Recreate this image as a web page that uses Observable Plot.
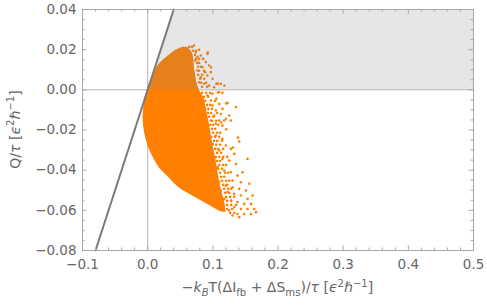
<!DOCTYPE html>
<html>
<head>
<meta charset="utf-8">
<script src="https://cdn.jsdelivr.net/npm/d3@7"></script>
<script src="https://cdn.jsdelivr.net/npm/@observablehq/plot@0.6"></script>
<style>
  html, body { margin: 0; padding: 0; background: #fff; }
</style>
</head>
<body>
<script>
// ---- tick values ----
const xMajor = [-0.1, 0, 0.1, 0.2, 0.3, 0.4, 0.5];
const xMinor = [-0.08, -0.06, -0.04, -0.02, 0.02, 0.04, 0.06, 0.08, 0.12, 0.14, 0.16, 0.18,
                0.22, 0.24, 0.26, 0.28, 0.32, 0.34, 0.36, 0.38, 0.42, 0.44, 0.46, 0.48];
const yMajor = [-0.08, -0.06, -0.04, -0.02, 0, 0.02, 0.04];
const yMinor = [-0.075, -0.07, -0.065, -0.055, -0.05, -0.045, -0.035, -0.03, -0.025,
                -0.015, -0.01, -0.005, 0.005, 0.01, 0.015, 0.025, 0.03, 0.035];

// ---- reference line (y = x) ----
const guideX = [-0.08, 0.04];
const guideY = [-0.08, 0.04];

// ---- shaded region (0 <= y <= min(x, 0.04)) ----
const shadeX = [0, 0.04, 0.5];
const shadeTop = [0, 0.04, 0.04];

// ---- dense core of the scatter: for each y, left and right x ----
const coreY = [0.02117, 0.02042, 0.01942, 0.01793, 0.01594, 0.01345, 0.01046, 0.00747, 0.00398, 0,
               -0.00398, -0.00797, -0.01195, -0.01594, -0.02042, -0.0254, -0.03038, -0.03536, -0.03934,
               -0.04333, -0.04681, -0.0498, -0.05279, -0.05528, -0.05727, -0.05876, -0.06026, -0.061];
const coreLeft = [0.0543, 0.0482, 0.042, 0.0358, 0.0282, 0.0197, 0.0128, 0.0089, 0.0038, -0.0006,
                  -0.0038, -0.0057, -0.0068, -0.0068, -0.0052, -0.0018, 0.0035, 0.0112, 0.0189,
                  0.0312, 0.0412, 0.0523, 0.0685, 0.082, 0.0928, 0.1009, 0.1089, 0.1151];
const coreRight = [0.0605, 0.0635, 0.0666, 0.0689, 0.0705, 0.0712, 0.072, 0.0735, 0.0751, 0.079,
                   0.086, 0.089, 0.0915, 0.094, 0.0965, 0.099, 0.102, 0.105, 0.107,
                   0.109, 0.111, 0.113, 0.1155, 0.1175, 0.119, 0.1195, 0.12, 0.1205];

// ---- speckled band just outside the core ----
const edgeX = [0.0835, 0.0897, 0.0958, 0.0866, 0.0928, 0.0882, 0.1035, 0.0912, 0.0958, 0.0882,
  0.0989, 0.0928, 0.0974, 0.1066, 0.0943, 0.1005, 0.0989, 0.1051, 0.0958, 0.1005,
  0.1082, 0.0989, 0.1035, 0.1005, 0.1066, 0.1112, 0.0974, 0.1035, 0.1097, 0.102,
  0.1066, 0.1143, 0.1051, 0.1112, 0.1035, 0.1082, 0.1158, 0.1066, 0.1128, 0.1097,
  0.1158, 0.122, 0.1066, 0.1112, 0.1097, 0.1158, 0.1205, 0.1082, 0.1143, 0.1112,
  0.1189, 0.1235, 0.1128, 0.1174, 0.1143, 0.1205, 0.1251, 0.1158, 0.122, 0.1174,
  0.1235, 0.1282, 0.1189, 0.1251, 0.1205, 0.1266, 0.1328, 0.122, 0.1282, 0.122,
  0.1282, 0.1358, 0.122, 0.1297, 0.1266, 0.1328,
  0.0635, 0.0682, 0.0697, 0.0743, 0.0728, 0.0743, 0.0789, 0.0758, 0.0774, 0.082,
  0.0789, 0.0866, 0.0774, 0.0835, 0.0805, 0.0866, 0.082, 0.0897, 0.0835, 0.0912];
const edgeY = [-0.0015, -0.0015, -0.0015, -0.0035, -0.0035, -0.0055, -0.0055, -0.0075, -0.0075, -0.0095,
  -0.0095, -0.0115, -0.0115, -0.0115, -0.0134, -0.0134, -0.0154, -0.0154, -0.0174, -0.0174,
  -0.0174, -0.0194, -0.0194, -0.0214, -0.0214, -0.0214, -0.0234, -0.0234, -0.0234, -0.0254,
  -0.0254, -0.0254, -0.0274, -0.0274, -0.0294, -0.0294, -0.0294, -0.0314, -0.0314, -0.0334,
  -0.0334, -0.0334, -0.0354, -0.0354, -0.0374, -0.0374, -0.0374, -0.0393, -0.0393, -0.0413,
  -0.0413, -0.0413, -0.0433, -0.0433, -0.0453, -0.0453, -0.0453, -0.0473, -0.0473, -0.0493,
  -0.0493, -0.0493, -0.0513, -0.0513, -0.0533, -0.0533, -0.0533, -0.0553, -0.0553, -0.0573,
  -0.0573, -0.0573, -0.0593, -0.0593, -0.0613, -0.0613,
  0.0214, 0.0214, 0.0194, 0.0194, 0.0174, 0.0154, 0.0154, 0.0134, 0.0115, 0.0115,
  0.0095, 0.0095, 0.0075, 0.0075, 0.0055, 0.0055, 0.0035, 0.0035, 0.0015, 0.0015];

// ---- sparse points at the outer fringe of the scatter ----
const scatterX = [0.0712, 0.0677, 0.0789, 0.0738, 0.0917, 0.0815, 0.0763, 0.0851, 0.0728, 0.0892,
  0.0789, 0.0943, 0.084, 0.0969, 0.0882, 0.0763, 0.0917, 0.0815, 0.0994, 0.1055,
  0.1123, 0.0943, 0.0866, 0.102, 0.0789, 0.0712, 0.1097, 0.0994, 0.1148, 0.0917,
  0.1055, 0.0969, 0.1225, 0.1097, 0.0994, 0.1354, 0.1148, 0.1046, 0.0932, 0.1123,
  0.1251, 0.102, 0.12, 0.1097, 0.1174, 0.1277, 0.0969, 0.1046, 0.1148, 0.0892,
  0.1077, 0.1205, 0.1128, 0.1385, 0.1308, 0.1205, 0.0923, 0.1,
  0.1405, 0.1277, 0.1328, 0.1148, 0.1046, 0.12, 0.1097, 0.1251, 0.1148, 0.1046,
  0.1354, 0.1532, 0.1455, 0.1378, 0.1277, 0.1174, 0.1071, 0.1302, 0.1431, 0.1558,
  0.1508, 0.1405, 0.1302, 0.12, 0.1097, 0.1609, 0.1532, 0.1431, 0.1328, 0.1225,
  0.1123, 0.1585, 0.1482, 0.1378, 0.1277, 0.1174, 0.1635, 0.1532, 0.1431, 0.1328,
  0.1251, 0.1585, 0.1482, 0.1378, 0.1662, 0.1405, 0.1302,
  0.0923, 0.0974, 0.1178, 0.1077];
const scatterY = [0.0221, 0.0213, 0.0199, 0.0188, 0.0179, 0.0171, 0.0163, 0.0154, 0.0146, 0.0138,
  0.0134, 0.0121, 0.0113, 0.0088, 0.0088, 0.0096, 0.0071, 0.0063, 0.0055, 0.003,
  0.003, 0.0021, 0.003, 0.0013, 0.0038, 0.0055, -0.0011, -0.002, -0.0015, -0.0028,
  -0.0045, -0.0053, -0.0065, -0.007, -0.0078, -0.0086, -0.0095, -0.0103, -0.0095, -0.012,
  -0.0128, -0.0128, -0.0144, -0.0153, -0.0153, -0.0153, -0.0153, -0.0169, -0.0178, -0.0169,
  -0.0013, -0.0068, -0.0163, -0.0238, -0.0287, -0.0196, -0.0221, -0.027,
  -0.0257, -0.0294, -0.0319, -0.0244, -0.0228, -0.0277, -0.0302, -0.0352, -0.0344, -0.0335,
  -0.0369, -0.0344, -0.041, -0.0427, -0.041, -0.0402, -0.0385, -0.0452, -0.046, -0.0468,
  -0.0501, -0.0493, -0.0485, -0.0477, -0.046, -0.0526, -0.0543, -0.0526, -0.0518, -0.0509,
  -0.0501, -0.0568, -0.0568, -0.0559, -0.0551, -0.0543, -0.0593, -0.0593, -0.0593, -0.0584,
  -0.0601, -0.0618, -0.0618, -0.0618, -0.0609, -0.0634, -0.0626,
  0.0186, 0.0111, 0.002, 0.0031];

// ---- tables built from the arrays ----
const core = coreY.map((y, i) => ({y, x1: coreLeft[i], x2: coreRight[i]}));
const points = scatterX.map((x, i) => ({x, y: scatterY[i]}))
  .concat(edgeX.map((x, i) => ({x, y: edgeY[i]})));
const shade = shadeX.map((x, i) => ({x, top: shadeTop[i]}));
const guide = guideX.map((x, i) => ({x, y: guideY[i]}));

const W = 487, H = 307;
const mL = 82, mR = 14, mT = 9, mB = 57;
const innerW = W - mL - mR, innerH = H - mT - mB;
const ORANGE = "#ff8000";
const FRAME = "#a8a8a8";
const TEXT = "#666666";
const major = 4.5, minor = 2.5;

const chart = Plot.plot({
  width: W, height: H,
  marginLeft: mL, marginRight: mR, marginTop: mT, marginBottom: mB,
  style: {fontFamily: "DejaVu Sans", fontSize: "13.5px", background: "#fff", color: TEXT},
  x: {domain: [-0.1, 0.5], axis: null},
  y: {domain: [-0.08, 0.04], axis: null},
  marks: [
    Plot.ruleX([0], {stroke: "#b4b4b4", strokeWidth: 1}),
    Plot.ruleY([0], {stroke: "#b4b4b4", strokeWidth: 1}),
    Plot.areaX(core, {y: "y", x1: "x1", x2: "x2", fill: ORANGE, curve: "catmull-rom"}),
    Plot.dot(points, {x: "x", y: "y", r: 1.3, fill: ORANGE, stroke: null}),
    Plot.areaY(shade, {x: "x", y1: 0, y2: "top", fill: "#808080", fillOpacity: 0.2}),
    Plot.line(guide, {x: "x", y: "y", stroke: "#7a7a7a", strokeWidth: 2}),
    Plot.frame({stroke: FRAME}),
    // inward frame ticks
    Plot.tickX(xMajor, {x: d => d, insetTop: innerH - major, stroke: FRAME}),
    Plot.tickX(xMajor, {x: d => d, insetBottom: innerH - major, stroke: FRAME}),
    Plot.tickX(xMinor, {x: d => d, insetTop: innerH - minor, stroke: FRAME}),
    Plot.tickX(xMinor, {x: d => d, insetBottom: innerH - minor, stroke: FRAME}),
    Plot.tickY(yMajor, {y: d => d, insetRight: innerW - major, stroke: FRAME}),
    Plot.tickY(yMajor, {y: d => d, insetLeft: innerW - major, stroke: FRAME}),
    Plot.tickY(yMinor, {y: d => d, insetRight: innerW - minor, stroke: FRAME}),
    Plot.tickY(yMinor, {y: d => d, insetLeft: innerW - minor, stroke: FRAME}),
    Plot.axisX(xMajor, {tickSize: 0, tickPadding: 9, tickFormat: d3.format(".1f"), fill: TEXT, fontSize: 13.5, label: null}),
    Plot.axisY(yMajor, {tickSize: 0, tickPadding: 6, tickFormat: d3.format(".2f"), fill: TEXT, fontSize: 13.5, label: null})
  ]
});
document.body.appendChild(chart);

// ---- rich axis titles ----
function rich(sel, parts) {
  let off = 0;
  for (const [s, kind, it] of parts) {
    const t = sel.append("tspan").text(s);
    const target = kind === "sub" ? 3.5 : kind === "sup" ? -5.5 : 0;
    t.attr("dy", target - off);
    off = target;
    if (kind) t.style("font-size", "72%");
    if (it) t.style("font-style", "italic");
  }
}
const svg = d3.select(chart);
const xt = svg.append("text")
  .attr("x", mL + innerW / 2).attr("y", 292)
  .attr("text-anchor", "middle").attr("fill", TEXT)
  .style("font-size", "14px");
rich(xt, [["\u2212", 0, 0], ["k", 0, 1], ["B", "sub", 1], ["T(\u0394I", 0, 0], ["fb", "sub", 0],
          [" + \u0394S", 0, 0], ["ms", "sub", 0], [")/", 0, 0], ["\u03c4", 0, 1], [" [", 0, 0],
          ["\u03f5", 0, 1], ["2", "sup", 0], ["\u210f", 0, 1], ["\u22121", "sup", 0], ["]", 0, 0]]);
const yt = svg.append("text")
  .attr("transform", `translate(19.5,${mT + innerH / 2}) rotate(-90)`)
  .attr("text-anchor", "middle").attr("fill", TEXT)
  .style("font-size", "14px");
rich(yt, [["Q/", 0, 0], ["\u03c4", 0, 1], [" [", 0, 0], ["\u03f5", 0, 1], ["2", "sup", 0],
          ["\u210f", 0, 1], ["\u22121", "sup", 0], ["]", 0, 0]]);
</script>
</body>
</html>
